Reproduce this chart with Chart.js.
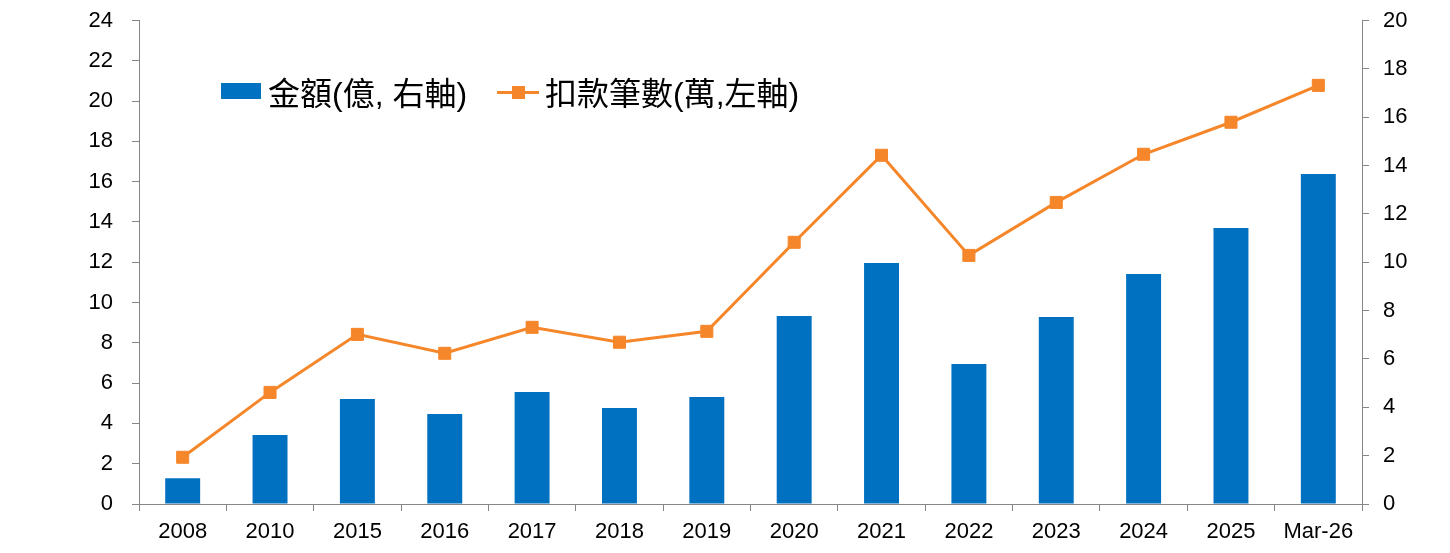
<!DOCTYPE html>
<html>
<head>
<meta charset="utf-8">
<script src="https://cdn.jsdelivr.net/npm/chart.js@4"></script>
<style>
  body { margin: 0; background: #fff; }
  #wrap { position: relative; width: 1450px; height: 553px; }
  .lg { position: absolute; font-family: "Liberation Sans", "Noto Sans CJK TC", sans-serif; font-size: 32px; line-height: 40px; color: #000; white-space: nowrap; }
</style>
</head>
<body>
<div id="wrap">
  <canvas id="myChart" width="1450" height="553"></canvas>
  <div style="position:absolute;left:221px;top:83px;width:40px;height:16px;background:#0070C0"></div>
  <div class="lg" style="left:268px;top:74px">金額(億, 右軸)</div>
  <div style="position:absolute;left:497px;top:91px;width:42px;height:3px;background:#F5862A"></div>
  <div style="position:absolute;left:512px;top:86px;width:13px;height:13px;background:#F5862A"></div>
  <div class="lg" style="left:545px;top:74px">扣款筆數(萬,左軸)</div>
</div>
<script>
// categories
var labels = ["2008", "2010", "2015", "2016", "2017", "2018", "2019", "2020", "2021", "2022", "2023", "2024", "2025", "Mar-26"];
// 金額(億) - right axis
var amount = [1.06, 2.85, 4.34, 3.72, 4.63, 3.97, 4.43, 7.78, 9.97, 5.79, 7.74, 9.51, 11.42, 13.65];
// 扣款筆數(萬) - left axis
var count = [2.32, 5.54, 8.42, 7.48, 8.77, 8.03, 8.57, 12.99, 17.31, 12.34, 14.97, 17.36, 18.95, 20.78];

var gray = "#868686";
var tickFont = { family: "Liberation Sans", size: 22 };

new Chart("myChart", {
  type: "bar",
  data: {
    labels: labels,
    datasets: [{
      type: "bar",
      label: "金額(億, 右軸)",
      data: amount,
      yAxisID: "y1",
      backgroundColor: "#0070C0",
      barPercentage: 0.4,
      categoryPercentage: 1,
      order: 1
    }, {
      type: "line",
      label: "扣款筆數(萬,左軸)",
      data: count,
      yAxisID: "y",
      borderColor: "#F5862A",
      backgroundColor: "#F5862A",
      borderWidth: 3,
      pointStyle: "rect",
      pointRadius: 8.5,
      pointBorderWidth: 1,
      tension: 0,
      order: 0
    }]
  },
  options: {
    responsive: false,
    animation: false,
    layout: { padding: { top: 20.5, left: 0, right: 0, bottom: 0 } },
    plugins: {
      legend: { display: false },
      tooltip: { enabled: false }
    },
    scales: {
      x: {
        grid: { display: true, drawOnChartArea: false, color: gray, tickLength: 7, offset: true },
        border: { color: gray, width: 1 },
        ticks: { color: "#000", font: tickFont, padding: 8, maxRotation: 0, autoSkip: false },
        afterFit: function(s) { s.height = 49; s.paddingLeft = 0; s.paddingRight = 0; }
      },
      y: {
        position: "left",
        min: 0, max: 24,
        ticks: { stepSize: 2, color: "#000", font: tickFont, padding: 19 },
        grid: { drawOnChartArea: false, color: gray, tickLength: 7 },
        border: { color: gray, width: 1 },
        afterFit: function(s) { s.width = 139; s.paddingTop = 0; s.paddingBottom = 0; }
      },
      y1: {
        position: "right",
        min: 0, max: 20,
        ticks: { stepSize: 2, color: "#000", font: tickFont, padding: 14 },
        grid: { drawOnChartArea: false, color: gray, tickLength: 7 },
        border: { color: gray, width: 1 },
        afterFit: function(s) { s.width = 88; s.paddingTop = 0; s.paddingBottom = 0; }
      }
    }
  }
});
</script>
</body>
</html>
